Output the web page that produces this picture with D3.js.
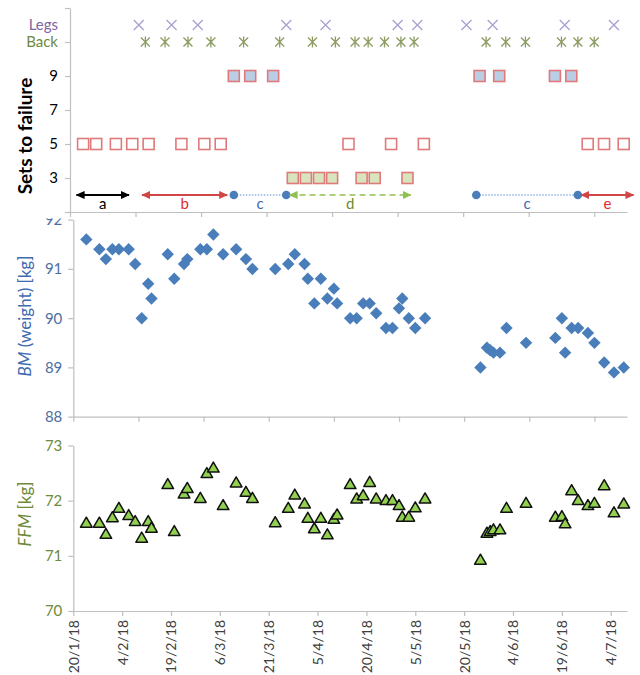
<!DOCTYPE html>
<html>
<head>
<meta charset="utf-8">
<script src="https://cdn.jsdelivr.net/npm/d3@7"></script>
<style>
  body { margin: 0; background: #fff; }
  text { font-family: Lato, "Open Sans", sans-serif; }
</style>
</head>
<body>
<script>
// ---- data ----
var measureDates = ["24/1/18","28/1/18","30/1/18","1/2/18","3/2/18","6/2/18","8/2/18","10/2/18","12/2/18","13/2/18",
  "18/2/18","20/2/18","23/2/18","24/2/18","28/2/18","2/3/18","4/3/18","7/3/18","11/3/18","14/3/18",
  "16/3/18","23/3/18","27/3/18","29/3/18","1/4/18","2/4/18","4/4/18","6/4/18","8/4/18","10/4/18",
  "11/4/18","15/4/18","17/4/18","19/4/18","21/4/18","23/4/18","26/4/18","28/4/18","30/4/18","1/5/18",
  "3/5/18","5/5/18","8/5/18","25/5/18","27/5/18","28/5/18","29/5/18","31/5/18","2/6/18","8/6/18",
  "17/6/18","19/6/18","20/6/18","22/6/18","24/6/18","27/6/18","29/6/18","2/7/18","5/7/18","8/7/18"];
var bodyMass = [91.6,91.4,91.2,91.4,91.4,91.4,91.1,90.0,90.7,90.4,
  91.3,90.8,91.1,91.2,91.4,91.4,91.7,91.3,91.4,91.2,
  91.0,91.0,91.1,91.3,91.1,90.8,90.3,90.8,90.4,90.6,
  90.3,90.0,90.0,90.3,90.3,90.1,89.8,89.8,90.2,90.4,
  90.0,89.8,90.0,89.0,89.4,89.35,89.3,89.3,89.8,89.5,
  89.6,90.0,89.3,89.8,89.8,89.7,89.5,89.1,88.9,89.0];
var fatFreeMass = [71.6,71.6,71.4,71.7,71.87,71.74,71.63,71.33,71.63,71.51,
  72.3,71.45,72.13,72.23,72.05,72.5,72.6,71.92,72.33,72.16,
  72.05,71.61,71.87,72.11,71.95,71.69,71.5,71.69,71.39,71.67,
  71.75,72.3,72.04,72.1,72.34,72.04,72.01,72.01,71.92,71.71,
  71.71,71.88,72.04,70.93,71.42,71.45,71.48,71.48,71.87,71.96,
  71.71,71.72,71.59,72.19,72.01,71.92,71.96,72.28,71.79,71.95];

var legsDates = ["10/2/18","20/2/18","28/2/18","27/3/18","8/4/18","30/4/18","6/5/18","21/5/18","29/5/18","20/6/18","5/7/18"];
var backDates = ["12/2/18","18/2/18","25/2/18","4/3/18","14/3/18","25/3/18","4/4/18","11/4/18","17/4/18","21/4/18",
  "26/4/18","1/5/18","5/5/18","27/5/18","2/6/18","8/6/18","19/6/18","24/6/18","29/6/18"];
var sets9Dates = ["11/3/18","16/3/18","23/3/18","25/5/18","31/5/18","17/6/18","22/6/18"];
var sets5Dates = ["24/1/18","28/1/18","3/2/18","8/2/18","13/2/18","23/2/18","2/3/18","7/3/18","15/4/18","28/4/18",
  "8/5/18","27/6/18","2/7/18","8/7/18"];
var sets3Dates = ["29/3/18","2/4/18","6/4/18","10/4/18","19/4/18","23/4/18","3/5/18"];

var phaseLabels = ["a","b","c","d","c","e"];
var phaseStart = ["22/1/18","11/2/18","11/3/18","28/3/18","24/5/18","25/6/18"];
var phaseEnd   = ["7/2/18","9/3/18","27/3/18","4/5/18","24/6/18","11/7/18"];

var xTickDates = ["20/1/18","4/2/18","19/2/18","6/3/18","21/3/18","5/4/18","20/4/18","5/5/18","20/5/18","4/6/18","19/6/18","4/7/18"];
var gridTickDates = ["20/1/18","9/2/18","1/3/18","21/3/18","10/4/18","30/4/18","20/5/18","9/6/18","29/6/18"];

// ---- setup ----
var parse = d3.timeParse("%d/%m/%y");
var fmt = d3.timeFormat("%-d/%-m/%y");
var axisCol = "#bfbfbf";

var svg = d3.select("body").append("svg").attr("width", 640).attr("height", 675);

var domain = [parse("20/1/18"), parse("9/7/18")];
var xTop = d3.scaleTime().domain(domain).range([70, 627]);
var xMain = d3.scaleTime().domain(domain).range([73.3, 627]);

var yTop = d3.scaleLinear().domain([1, 13]).range([212, 8]);
var yBM = d3.scaleLinear().domain([88, 92]).range([416.7, 219.7]);
var yFFM = d3.scaleLinear().domain([70, 73]).range([611, 445.5]);

function styleAxis(g) {
  g.select(".domain").attr("stroke", axisCol).attr("stroke-width", 1.2);
  g.selectAll(".tick line").attr("stroke", axisCol).attr("stroke-width", 1.2);
}

// ---- top panel: sets to failure ----
var topG = svg.append("g");
topG.append("g").attr("transform", "translate(70,0)")
  .call(d3.axisLeft(yTop).tickValues([1,3,5,7,9,11,13]).tickSize(5).tickSizeOuter(0)
    .tickFormat(function (d) { return (d >= 3 && d <= 9) ? d : ""; }))
  .call(styleAxis)
  .call(function (g) {
    g.selectAll(".tick text").attr("font-size", 15).attr("fill", "#000").attr("x", -12);
  });
topG.append("text").attr("x", 58).attr("y", yTop(12)).attr("dy", "0.35em")
  .attr("text-anchor", "end").attr("font-size", 15).attr("fill", "#8064a2").text("Legs");
topG.append("text").attr("x", 58).attr("y", yTop(11)).attr("dy", "0.35em")
  .attr("text-anchor", "end").attr("font-size", 15).attr("fill", "#6f8a3a").text("Back");

topG.append("g").attr("transform", "translate(0,212)")
  .call(d3.axisBottom(xTop).tickValues(gridTickDates.map(parse)).tickSize(5).tickSizeOuter(0).tickFormat(""))
  .call(styleAxis);

topG.append("text")
  .attr("transform", "translate(32,136) rotate(-90)")
  .attr("text-anchor", "middle").attr("font-size", 19).attr("font-weight", "bold").text("Sets to failure");

// legs crosses
topG.selectAll(".legs").data(legsDates).enter().append("path")
  .attr("transform", function (d) { return "translate(" + xTop(parse(d)) + "," + yTop(12) + ")"; })
  .attr("d", "M-5,-5L5,5M-5,5L5,-5")
  .attr("stroke", "#ab9fd0").attr("stroke-width", 1.3).attr("fill", "none");

// back asterisks
topG.selectAll(".back").data(backDates).enter().append("path")
  .attr("transform", function (d) { return "translate(" + xTop(parse(d)) + "," + yTop(11) + ")"; })
  .attr("d", "M-4.5,-4.5L4.5,4.5M-4.5,4.5L4.5,-4.5M0,-5.5L0,5.5")
  .attr("stroke", "#8c9c62").attr("stroke-width", 1.3).attr("fill", "none");

function squares(dates, value, fill) {
  topG.append("g").selectAll("rect").data(dates).enter().append("rect")
    .attr("x", function (d) { return xTop(parse(d)) - 5.5; })
    .attr("y", yTop(value) - 5.5)
    .attr("width", 11).attr("height", 11)
    .attr("fill", fill).attr("stroke", "#e07a7a").attr("stroke-width", 1.6);
}
squares(sets9Dates, 9, "#b9cde5");
squares(sets5Dates, 5, "#fff");
squares(sets3Dates, 3, "#d7e4bd");

// phase arrows
var defs = svg.append("defs");
function arrowMarker(id, color, dir) {
  var m = defs.append("marker").attr("id", id)
    .attr("viewBox", "0 -5 10 10").attr("refX", dir === "end" ? 9 : 1).attr("refY", 0)
    .attr("markerWidth", 9).attr("markerHeight", 9).attr("markerUnits", "userSpaceOnUse")
    .attr("orient", "auto");
  m.append("path").attr("d", dir === "end" ? "M0,-4.5L10,0L0,4.5Z" : "M10,-4.5L0,0L10,4.5Z").attr("fill", color);
}
var phaseColor = { a: "#000", b: "#d04545", c: "#4a7ebb", d: "#92c050", e: "#d04545" };
var labelColor = { a: "#000", b: "#e02b2b", c: "#3d6cb0", d: "#6b8a2e", e: "#e02b2b" };
["a","b","d","e"].forEach(function (k) {
  arrowMarker("s" + k, phaseColor[k], "start");
  arrowMarker("e" + k, phaseColor[k], "end");
});

var yArrow = yTop(2);
phaseLabels.forEach(function (lab, i) {
  var x0 = xTop(parse(phaseStart[i])), x1 = xTop(parse(phaseEnd[i]));
  var line = topG.append("line").attr("x1", x0).attr("x2", x1).attr("y1", yArrow).attr("y2", yArrow);
  if (lab === "c") {
    line.attr("stroke", "#8db3e2").attr("stroke-width", 1.6).attr("stroke-dasharray", "1.5,1.5");
    topG.append("circle").attr("cx", x0).attr("cy", yArrow).attr("r", 4.3).attr("fill", "#4a7ebb");
    topG.append("circle").attr("cx", x1).attr("cy", yArrow).attr("r", 4.3).attr("fill", "#4a7ebb");
  } else {
    line.attr("stroke", phaseColor[lab]).attr("stroke-width", lab === "d" ? 1.6 : 1.8)
      .attr("marker-start", "url(#s" + lab + ")").attr("marker-end", "url(#e" + lab + ")");
    if (lab === "d") line.attr("stroke-dasharray", "6,4");
  }
  topG.append("text").attr("x", (x0 + x1) / 2).attr("y", 212).attr("dy", "-0.2em")
    .attr("text-anchor", "middle").attr("font-size", 15).attr("fill", labelColor[lab]).text(lab);
});

// ---- middle panel: body mass ----
var mid = svg.append("g");
defs.append("clipPath").attr("id", "midclip").append("rect")
  .attr("x", -80).attr("y", 218.5).attr("width", 720).attr("height", 210);
mid.append("g").attr("clip-path", "url(#midclip)")
  .append("g").attr("transform", "translate(73.3,0)")
  .call(d3.axisLeft(yBM).ticks(4).tickSize(5).tickSizeOuter(0).tickFormat(d3.format("d")))
  .call(styleAxis)
  .call(function (g) {
    g.selectAll(".tick text").attr("font-size", 15).attr("fill", "#4d6fa3").attr("x", -11);
  });
mid.append("g").attr("transform", "translate(0,416.7)")
  .call(d3.axisBottom(xMain).tickValues(gridTickDates.map(parse)).tickSize(5).tickSizeOuter(0).tickFormat(""))
  .call(styleAxis);

var bmTitle = mid.append("text").attr("transform", "translate(31,316) rotate(-90)")
  .attr("text-anchor", "middle").attr("font-size", 17).attr("fill", "#3e6ab0");
bmTitle.append("tspan").attr("font-style", "italic").text("BM");
bmTitle.append("tspan").text(" (weight) [kg]");

mid.selectAll(".bm").data(measureDates).enter().append("path")
  .attr("transform", function (d, i) { return "translate(" + xMain(parse(d)) + "," + yBM(bodyMass[i]) + ")"; })
  .attr("d", "M0,-6.2L6.2,0L0,6.2L-6.2,0Z")
  .attr("fill", "#4a7ebb");

// ---- bottom panel: fat-free mass ----
var bot = svg.append("g");
bot.append("g").attr("transform", "translate(73.3,0)")
  .call(d3.axisLeft(yFFM).ticks(3).tickSize(5).tickSizeOuter(0).tickFormat(d3.format("d")))
  .call(styleAxis)
  .call(function (g) {
    g.selectAll(".tick text").attr("font-size", 15).attr("fill", "#6f8a3a").attr("x", -11);
  });
bot.append("g").attr("transform", "translate(0,611)")
  .call(d3.axisBottom(xMain).tickValues(xTickDates.map(parse)).tickSize(5).tickSizeOuter(0).tickFormat(fmt))
  .call(styleAxis)
  .call(function (g) {
    g.selectAll(".tick text")
      .attr("font-size", 14).attr("fill", "#404040")
      .attr("transform", "rotate(-90)")
      .attr("text-anchor", "end")
      .attr("x", -9).attr("y", 0).attr("dy", "0.35em");
  });

var ffmTitle = bot.append("text").attr("transform", "translate(31,514) rotate(-90)")
  .attr("text-anchor", "middle").attr("font-size", 17).attr("fill", "#6f8a3a");
ffmTitle.append("tspan").attr("font-style", "italic").text("FFM");
ffmTitle.append("tspan").text(" [kg]");

bot.selectAll(".ffm").data(measureDates).enter().append("path")
  .attr("transform", function (d, i) { return "translate(" + xMain(parse(d)) + "," + yFFM(fatFreeMass[i]) + ")"; })
  .attr("d", "M0,-5.5L5.8,4.5L-5.8,4.5Z")
  .attr("fill", "#92d050").attr("stroke", "#111").attr("stroke-width", 1.5).attr("stroke-linejoin", "round");
</script>
</body>
</html>
